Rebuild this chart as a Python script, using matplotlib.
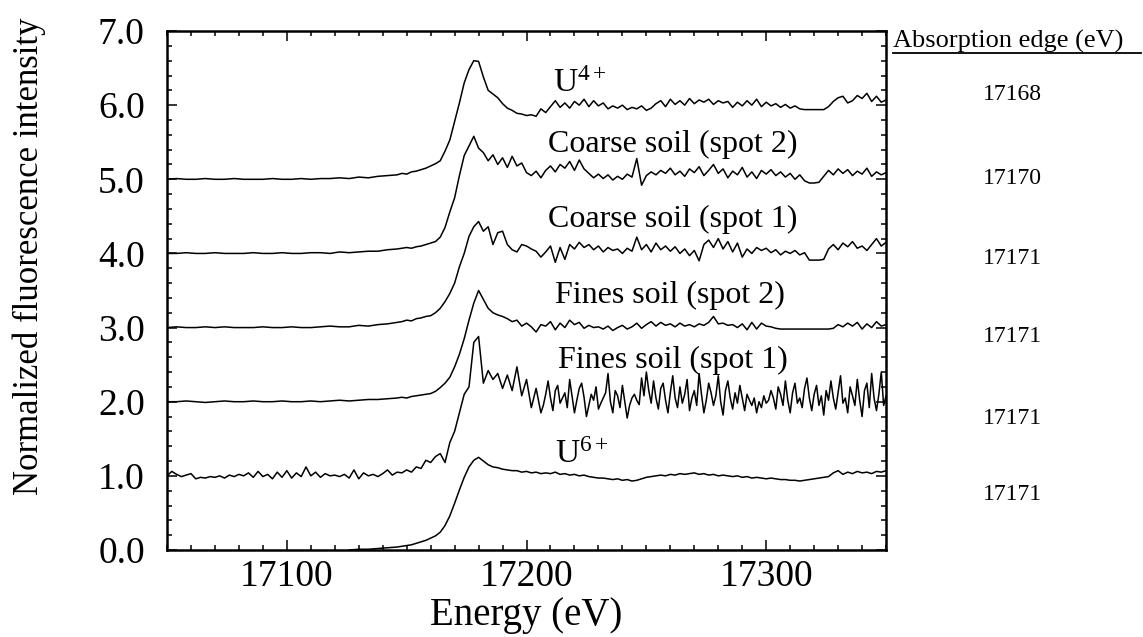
import numpy as np
import matplotlib
matplotlib.use("Agg")
import matplotlib.pyplot as plt
from matplotlib.ticker import MultipleLocator, FormatStrFormatter
from matplotlib.lines import Line2D

plt.rcParams['font.family'] = ['Liberation Serif', 'DejaVu Serif']
plt.rcParams['mathtext.fontset'] = 'custom'
plt.rcParams['mathtext.rm'] = 'Liberation Serif'
plt.rcParams['mathtext.it'] = 'Liberation Serif:italic'

# ---------------- data (energies in eV) ----------------
E_PRE = np.arange(17050, 17147, 4)      # 25 pts, smooth pre-edge
E_PRE_F1 = np.arange(17050, 17147, 2)   # 49 pts, noisy pre-edge (fines spot 1)
E_PRE_U6 = np.arange(17126, 17147, 4)   # 6 pts
E_POST = np.arange(17148, 17351, 2)     # 102 pts
E_EDGE_F1 = np.arange(17148, 17207, 2)  # 30 pts
E_TAIL_F1 = np.arange(17207, 17351, 1)  # 144 pts

u4_pre = [5.00, 5.01, 5.00, 5.00, 5.01, 5.00, 5.00, 5.01, 5.00, 5.00,
          5.00, 5.01, 5.00, 5.00, 5.01, 5.00, 5.01, 5.01, 5.02, 5.01,
          5.03, 5.02, 5.04, 5.05, 5.06]
u4_post = [5.08, 5.07, 5.10, 5.11, 5.13, 5.15, 5.18, 5.21, 5.25, 5.38,
           5.53, 5.78, 6.03, 6.30, 6.48, 6.60, 6.59, 6.38, 6.20, 6.15,
           6.10, 6.02, 5.96, 5.93, 5.89, 5.88, 5.86, 5.87, 5.85, 5.95,
           5.90, 5.98, 6.06, 5.97, 6.03, 5.96, 6.05, 6.00, 6.08, 5.98,
           6.06, 5.99, 6.03, 5.95, 5.99, 5.96, 6.00, 5.94, 5.97, 5.95,
           5.99, 5.93, 5.96, 6.02, 6.06, 5.98, 6.08, 6.01, 6.06, 6.00,
           6.09, 6.02, 6.07, 6.04, 6.08, 6.01, 6.06, 6.03, 6.05, 5.97,
           6.04, 5.99, 6.06, 6.00, 6.08, 5.98, 6.04, 5.99, 6.02, 5.97,
           6.01, 5.96, 5.99, 5.95, 5.94, 5.94, 5.94, 5.94, 5.94, 5.98,
           6.05, 6.10, 6.12, 6.03, 6.06, 6.13, 6.09, 6.16, 6.05, 6.12,
           6.04, 6.07]

c2_pre = [4.00, 4.00, 4.01, 4.00, 4.00, 4.01, 4.00, 4.00, 4.00, 4.01,
          4.00, 4.00, 4.01, 4.00, 4.00, 4.01, 4.01, 4.00, 4.02, 4.01,
          4.02, 4.03, 4.03, 4.05, 4.06]
c2_post = [4.07, 4.08, 4.07, 4.09, 4.10, 4.12, 4.14, 4.16, 4.22, 4.35,
           4.56, 4.75, 5.05, 5.32, 5.45, 5.58, 5.42, 5.36, 5.25, 5.33,
           5.20, 5.29, 5.16, 5.31, 5.18, 5.22, 5.09, 5.05, 5.11, 5.02,
           5.12, 5.18, 5.10, 5.20, 5.15, 5.24, 5.12, 5.26, 5.14, 5.08,
           5.02, 5.07, 5.01, 5.06, 4.99, 5.04, 5.00, 5.07, 5.03, 5.28,
           4.92, 5.05, 5.10, 5.06, 5.12, 5.08, 5.15, 5.06, 5.11, 5.04,
           5.14, 5.09, 5.17, 5.05, 5.12, 5.20, 5.08, 5.14, 5.02, 5.11,
           5.06, 5.16, 5.03, 5.10, 5.01, 5.12, 5.07, 5.13, 5.05, 5.10,
           5.03, 5.08, 5.00, 5.06, 4.98, 4.95, 4.95, 4.96, 5.04, 5.12,
           5.06, 5.14, 5.08, 5.13, 5.05, 5.11, 5.07, 5.15, 5.04, 5.10,
           5.06, 5.09]

c1_pre = [3.00, 3.01, 3.00, 3.00, 3.01, 3.00, 3.01, 3.00, 3.00, 3.00,
          3.01, 3.00, 3.00, 3.01, 3.00, 3.00, 3.01, 3.02, 3.01, 3.01,
          3.03, 3.02, 3.04, 3.05, 3.07]
c1_post = [3.08, 3.10, 3.09, 3.12, 3.13, 3.15, 3.16, 3.20, 3.26, 3.35,
           3.46, 3.60, 3.82, 4.00, 4.23, 4.36, 4.43, 4.30, 4.36, 4.12,
           4.28, 4.30, 4.12, 4.05, 4.02, 4.12, 4.10, 4.06, 4.03, 3.95,
           4.02, 4.10, 3.88, 4.08, 3.92, 4.12, 4.06, 4.15, 4.08, 4.12,
           4.05, 4.10, 4.02, 4.08, 4.04, 4.06, 4.00, 4.07, 4.03, 4.22,
           4.05, 4.12, 4.02, 4.14, 4.05, 4.10, 4.03, 4.09, 4.00, 4.06,
           3.97, 4.04, 3.90, 4.12, 4.18, 4.08, 4.20, 4.06, 4.16, 4.02,
           4.14, 3.95, 4.06, 4.00, 4.08, 4.04, 4.07, 4.01, 4.05, 3.98,
           4.03, 4.00, 4.04, 3.98, 4.01, 3.91, 3.91, 3.91, 3.92, 4.06,
           4.12, 4.05, 4.14, 4.09, 4.16, 4.07, 4.10, 4.04, 4.12, 4.20,
           4.10, 4.15]

f2_pre = [2.00, 2.00, 2.01, 2.00, 1.99, 2.00, 2.01, 2.00, 2.00, 2.01,
          2.00, 2.00, 2.01, 2.00, 2.00, 2.01, 2.00, 2.01, 2.02, 2.01,
          2.02, 2.03, 2.03, 2.04, 2.05]
f2_post = [2.06, 2.05, 2.07, 2.08, 2.09, 2.10, 2.11, 2.14, 2.19, 2.25,
           2.33, 2.47, 2.64, 2.85, 3.10, 3.33, 3.50, 3.38, 3.26, 3.20,
           3.17, 3.15, 3.12, 3.08, 3.10, 3.02, 3.06, 3.01, 2.94, 3.04,
           3.02, 3.08, 2.97, 3.06, 3.00, 3.10, 3.04, 3.07, 2.99, 3.03,
           3.00, 3.01, 2.98, 3.02, 2.96, 3.00, 3.03, 2.98, 3.01, 3.06,
           2.99, 3.04, 3.08, 3.02, 3.07, 3.03, 3.05, 3.01, 3.06, 3.02,
           3.04, 3.01, 3.05, 3.03, 3.07, 3.15, 3.05, 3.06, 3.03, 3.04,
           3.00, 3.05, 2.97, 3.07, 2.98, 3.06, 3.02, 3.01, 2.99, 2.98,
           2.98, 2.98, 2.98, 2.98, 2.98, 2.98, 2.98, 2.98, 2.98, 2.98,
           2.99, 3.04, 3.01, 3.06, 3.02, 3.07, 2.98, 3.05, 3.00, 3.08,
           3.02, 3.04]

f1_pre = [1.00, 1.06, 1.02, 0.99, 1.01, 1.03, 0.96, 0.98, 0.97, 0.99,
          0.98, 1.00, 0.97, 1.01, 0.99, 1.02, 1.00, 1.04, 0.98, 1.06,
          0.99, 1.02, 0.96, 1.05, 0.98, 1.07, 0.97, 1.04, 0.99, 1.12,
          1.00, 1.05, 0.98, 1.03, 1.00, 1.01, 0.99, 1.02, 0.97, 1.08,
          0.96, 1.04, 1.00, 1.02, 0.99, 1.03, 1.08, 1.01, 1.05]
f1_edge = [1.04, 1.08, 1.05, 1.12, 1.10, 1.21, 1.18, 1.26, 1.30, 1.18,
           1.45, 1.60, 1.85, 2.10, 2.20, 2.80, 2.88, 2.25, 2.42, 2.30,
           2.38, 2.18, 2.36, 2.15, 2.47, 2.08, 2.30, 1.92, 2.18, 1.85]
f1_tail = [1.95, 2.10, 2.28, 2.05, 1.88, 2.15, 2.22, 1.98, 2.05, 2.12, 1.92, 2.30,
           2.08, 1.85, 2.02, 2.18, 2.25, 2.06, 1.80, 1.95, 2.10, 2.02, 2.20, 1.90,
           1.98, 2.05, 2.12, 2.38, 2.00, 1.85, 2.15, 2.08, 1.92, 2.22, 2.00, 1.78,
           1.95, 2.05, 2.10, 2.02, 1.96, 2.32, 2.08, 2.40, 2.15, 1.98, 2.28, 2.05,
           1.90, 2.18, 2.25, 2.02, 1.85, 2.12, 2.35, 2.05, 1.92, 2.20, 1.98, 2.10,
           2.30, 1.88, 2.05, 2.15, 1.95, 2.38, 2.10, 1.85, 2.02, 2.25, 2.12, 1.95,
           2.08, 2.35, 2.00, 1.82, 2.15, 2.28, 2.05, 1.90, 2.12, 1.98, 2.22, 2.05,
           1.88, 2.10, 2.02, 1.95, 2.05, 1.85, 2.00, 1.92, 2.08, 1.98, 2.02, 2.15,
           2.05, 1.90, 2.20, 2.10, 1.95, 2.28, 2.02, 1.85, 2.12, 2.25, 1.98, 2.05,
           1.92, 2.18, 2.32, 2.05, 1.88, 2.10, 2.22, 1.95, 2.08, 1.82, 2.15, 2.02,
           2.28, 2.05, 1.90, 2.12, 2.35, 1.98, 2.05, 1.85, 2.20, 2.08, 1.95, 2.30,
           2.02, 1.80, 2.15, 2.25, 1.92, 2.38, 2.05, 1.88, 2.10, 2.40, 1.95, 2.08]

u6_pre = [0.00, 0.01, 0.01, 0.02, 0.03, 0.04]
u6_post = [0.05, 0.06, 0.07, 0.09, 0.11, 0.13, 0.16, 0.19, 0.24, 0.33,
           0.46, 0.63, 0.81, 0.98, 1.12, 1.21, 1.25, 1.20, 1.15, 1.12,
           1.11, 1.09, 1.08, 1.07, 1.07, 1.05, 1.06, 1.04, 1.05, 1.03,
           1.04, 1.03, 1.05, 1.02, 1.03, 1.01, 1.02, 1.00, 1.01, 0.99,
           0.98, 0.97, 0.97, 0.96, 0.95, 0.96, 0.94, 0.95, 0.93, 0.94,
           0.96, 0.98, 0.99, 1.00, 1.01, 1.00, 1.02, 1.01, 1.03, 1.02,
           1.03, 1.04, 1.02, 1.03, 1.01, 1.02, 1.00, 1.01, 1.00, 0.99,
           1.00, 0.98, 0.99, 0.97, 0.98, 0.97, 0.96, 0.97, 0.96, 0.95,
           0.95, 0.94, 0.94, 0.93, 0.94, 0.95, 0.96, 0.97, 0.98, 0.99,
           1.04, 1.07, 1.02, 1.05, 1.03, 1.06, 1.04, 1.05, 1.03, 1.06,
           1.05, 1.07]

sample_labels = [r'U$^{4+}$', 'Coarse soil (spot 2)', 'Coarse soil (spot 1)',
                 'Fines soil (spot 2)', 'Fines soil (spot 1)', r'U$^{6+}$']
label_pos = [(17211, 6.18), (17209, 5.37), (17209, 4.35),
             (17212, 3.33), (17213, 2.46), (17212, 1.17)]
edge_values = ['17168', '17170', '17171', '17171', '17171', '17171']
table_title = 'Absorption edge (eV)'

series = [
    [(E_PRE, u4_pre), (E_POST, u4_post)],
    [(E_PRE, c2_pre), (E_POST, c2_post)],
    [(E_PRE, c1_pre), (E_POST, c1_post)],
    [(E_PRE, f2_pre), (E_POST, f2_post)],
    [(E_PRE_F1, f1_pre), (E_EDGE_F1, f1_edge), (E_TAIL_F1, f1_tail)],
    [(E_PRE_U6, u6_pre), (E_POST, u6_post)],
]

# ---------------- figure ----------------
fig = plt.figure(figsize=(11.43, 6.37), dpi=100)
ax = fig.add_axes([0.1461, 0.1366, 0.6291, 0.8147])

for segs in series:
    for e, v in segs:
        assert len(e) == len(v), (len(e), len(v))
    x = np.concatenate([e for e, _ in segs])
    y = np.concatenate([v for _, v in segs])
    ax.plot(x, y, color='black', lw=1.1)

ax.set_xlim(17050, 17350)
ax.set_ylim(0, 7)
ax.xaxis.set_major_locator(MultipleLocator(100))
ax.xaxis.set_minor_locator(MultipleLocator(10))
ax.yaxis.set_major_locator(MultipleLocator(1))
ax.yaxis.set_minor_locator(MultipleLocator(0.2))
ax.yaxis.set_major_formatter(FormatStrFormatter('%.1f'))
ax.tick_params(which='both', direction='in', top=True, right=True, width=1.1)
ax.tick_params(which='major', length=7)
ax.tick_params(which='minor', length=3.5)
ax.tick_params(axis='x', which='major', labelsize=27, pad=7)
ax.tick_params(axis='y', which='major', labelsize=27, pad=16)
for s in ax.spines.values():
    s.set_linewidth(1.8)

ax.set_xlabel('Energy (eV)', fontsize=28, labelpad=2)
ax.set_ylabel('Normalized fluorescence intensity', fontsize=25)
ax.yaxis.set_label_coords(-0.168, 0.566)

for lab, (xe, yv) in zip(sample_labels, label_pos):
    fs = 24 if lab.startswith('U') else 23
    ax.text(xe, yv, lab, fontsize=fs, ha='left', va='baseline')

# absorption edge table on the right
fig.text(893 / 1143, 1 - 48 / 637, table_title, fontsize=19, ha='left', va='baseline')
fig.add_artist(Line2D([893 / 1143, 1141 / 1143], [1 - 53 / 637, 1 - 53 / 637],
                      color='black', lw=1.3, transform=fig.transFigure))
row_y = [94.5, 178, 258, 336, 418, 495]
for val, ry in zip(edge_values, row_y):
    fig.text(1012 / 1143, 1 - ry / 637, val, fontsize=17, ha='center', va='center')

fig.savefig('out.png', dpi=100)
